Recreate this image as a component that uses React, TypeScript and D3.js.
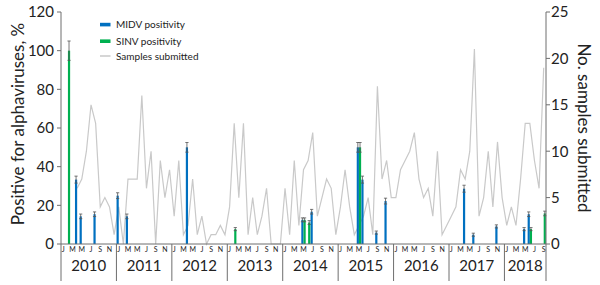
import React from "react";
import * as d3 from "d3";

const years = [2010, 2011, 2012, 2013, 2014, 2015, 2016, 2017, 2018];
const monthInitials = ["J", "F", "M", "A", "M", "J", "J", "A", "S", "O", "N", "D"];
const monthsInLastYear = 9;

// Samples submitted per month, Jan 2010 .. Sep 2018 (null = no data)
const samples: (number | null)[] = [
  null, null, null, 6, 7, 10, 15, 13, 4, 5, 4, 1,
  4, 0, 7, 7, 7, 16, 6, 10, 0, 9, 5, 8,
  3, 9, 1, 2, 7, 1, 3, 0, 1, 1, 2, 1,
  4, 13, 5, 13, 1, 5, 1, 3, 6, 0, 0, 0,
  6, 1, 9, 2, 8, 9, 12, 3, 5, 7, 6, 1,
  4, 8, 4, 1, 2, 3, 5, 1, 17, 7, 9, 5,
  5, 8, 9, 10, 12, 7, 5, 6, 3, 10, 1, 2,
  3, 4, 8, 7, 10, 21, 3, 5, 10, 4, 11, 5,
  2, 4, 2, 7, 13, 13, 9, 6, 19,
];

const midvMonths = ["2010-4", "2010-5", "2010-8", "2011-1", "2011-3", "2012-4", "2014-5", "2014-7", "2015-5", "2015-6", "2015-9", "2015-11", "2017-4", "2017-6", "2017-11", "2018-5", "2018-6"];
const midvValues = [33.3, 14.3, 15.4, 25, 14.3, 50, 12.5, 16.7, 50, 33.3, 5.9, 22.2, 28.6, 4.8, 9.1, 7.7, 15.4];
const midvErrors = [1.8, 1.2, 1.2, 1.5, 1.2, 2.5, 1.0, 1.2, 2.5, 1.8, 0.8, 1.5, 1.8, 0.8, 0.8, 0.8, 1.2];

const sinvMonths = ["2010-2", "2013-2", "2014-5", "2014-6", "2015-5", "2018-6", "2018-9"];
const sinvValues = [100, 7.7, 12.5, 11.1, 50, 7.7, 15.8];
const sinvErrors = [5, 0.8, 1.0, 1.0, 2.5, 0.8, 1.2];

const leftTicks = [0, 20, 40, 60, 80, 100, 120];
const rightTicks = [0, 5, 10, 15, 20, 25];

const FONT = "Lato, Carlito, Calibri, sans-serif";
const BLUE = "#0070C0";
const GREEN = "#00B050";
const GRAY = "#c9c9c9";
const AXIS = "#6e6e6e";
const TEXT = "#222";

export default function App() {
  const W = 600, H = 285;
  const left = 61, right = 546, top = 12, bottom = 244;

  const cats: { key: string; year: number; m: number }[] = [];
  years.forEach((y, yi) => {
    const n = yi === years.length - 1 ? monthsInLastYear : 12;
    for (let m = 0; m < n; m++) cats.push({ key: `${y}-${m + 1}`, year: y, m });
  });

  const x = d3.scaleBand<string>().domain(cats.map((c) => c.key)).range([left, right]).paddingInner(0).paddingOuter(0);
  const bw = x.bandwidth();
  const sub = d3.scaleBand<string>().domain(["MIDV", "SINV"]).range([0, bw]).paddingInner(0).paddingOuter(0.05);
  const yL = d3.scaleLinear().domain([0, 120]).range([bottom, top]);
  const yR = d3.scaleLinear().domain([0, 25]).range([bottom, top]);

  const line = d3
    .line<number | null>()
    .defined((d) => d != null)
    .x((_, i) => (x(cats[i].key) as number) + bw / 2)
    .y((d) => yR(d as number));
  const path = line(samples) || "";

  const bars = (months: string[], vals: number[], errs: number[], series: string, color: string) =>
    months.map((k, i) => {
      const x0 = (x(k) as number) + (sub(series) as number);
      const w = sub.bandwidth();
      const cx = x0 + w / 2;
      const v = vals[i];
      const e = errs[i];
      return (
        <g key={series + k}>
          <rect x={x0} y={yL(v)} width={w} height={yL(0) - yL(v)} fill={color} />
          <line x1={cx} x2={cx} y1={yL(v + e)} y2={yL(v - e)} stroke="#555" strokeWidth={0.8} />
          <line x1={cx - 1.6} x2={cx + 1.6} y1={yL(v + e)} y2={yL(v + e)} stroke="#555" strokeWidth={0.8} />
          <line x1={cx - 1.6} x2={cx + 1.6} y1={yL(v - e)} y2={yL(v - e)} stroke="#555" strokeWidth={0.8} />
        </g>
      );
    });

  const yearStarts = years.map((y) => x(`${y}-1`) as number);
  const yearEnds = years.map((y, yi) => {
    const n = yi === years.length - 1 ? monthsInLastYear : 12;
    return (x(`${y}-${n}`) as number) + bw;
  });

  return (
    <svg width={W} height={H} style={{ position: "absolute", left: 0, top: 0, background: "#fff" }} fontFamily={FONT}>
      <rect width={W} height={H} fill="#fff" />
      {/* sample line */}
      <path d={path} fill="none" stroke={GRAY} strokeWidth={1.2} strokeLinejoin="miter" />
      {/* bars */}
      {bars(midvMonths, midvValues, midvErrors, "MIDV", BLUE)}
      {bars(sinvMonths, sinvValues, sinvErrors, "SINV", GREEN)}

      {/* x axis baseline */}
      <line x1={left} x2={right} y1={bottom} y2={bottom} stroke={AXIS} strokeWidth={1} />
      {/* left axis */}
      <line x1={left} x2={left} y1={top} y2={281} stroke={AXIS} strokeWidth={1} />
      {leftTicks.map((t) => (
        <g key={"l" + t}>
          <line x1={left - 4} x2={left} y1={yL(t)} y2={yL(t)} stroke={AXIS} />
          <text x={left - 7} y={yL(t)} dy="0.36em" textAnchor="end" fontSize={15} fill={TEXT}>{t}</text>
        </g>
      ))}
      {/* right axis */}
      <line x1={right} x2={right} y1={top} y2={281} stroke={AXIS} strokeWidth={1} />
      {rightTicks.map((t) => (
        <g key={"r" + t}>
          <line x1={right} x2={right + 4} y1={yR(t)} y2={yR(t)} stroke={AXIS} />
          <text x={right + 5} y={yR(t)} dy="0.36em" textAnchor="start" fontSize={15} fill={TEXT}>{t}</text>
        </g>
      ))}
      {/* year separators */}
      {yearStarts.slice(1).map((xs, i) => (
        <line key={"sep" + i} x1={xs} x2={xs} y1={bottom} y2={281} stroke={AXIS} strokeWidth={1} />
      ))}
      {/* month letters */}
      {cats.filter((c) => c.m % 2 === 0).map((c) => (
        <text key={"m" + c.key} x={(x(c.key) as number) + bw / 2} y={251.5} textAnchor="middle" fontSize={7} fill={TEXT}>
          {monthInitials[c.m]}
        </text>
      ))}
      {/* years */}
      {years.map((y, i) => (
        <text key={"y" + y} x={(yearStarts[i] + yearEnds[i]) / 2} y={270.5} textAnchor="middle" fontSize={15} fill={TEXT}>
          {y}
        </text>
      ))}
      {/* axis titles */}
      <text transform={`translate(24,${(top + bottom) / 2 - 4}) rotate(-90)`} textAnchor="middle" fontSize={17} fill={TEXT}>
        Positive for alphaviruses, %
      </text>
      <text transform={`translate(578,${(top + bottom) / 2}) rotate(90)`} textAnchor="middle" fontSize={17} fill={TEXT}>
        No. samples submitted
      </text>
      {/* legend */}
      <g fontSize={10} fill={TEXT}>
        <rect x={100} y={22.8} width={10.5} height={3.6} fill={BLUE} />
        <text x={116} y={28}>MIDV positivity</text>
        <rect x={100} y={39.4} width={10.5} height={3.6} fill={GREEN} />
        <text x={116} y={44.5}>SINV positivity</text>
        <line x1={100} x2={110.5} y1={56} y2={56} stroke={GRAY} strokeWidth={1.5} />
        <text x={116} y={60}>Samples submitted</text>
      </g>
    </svg>
  );
}
